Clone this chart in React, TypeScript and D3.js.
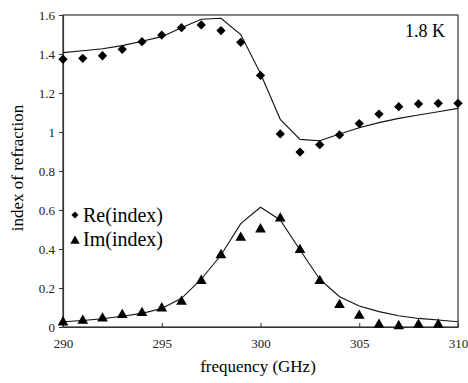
import React, { useRef, useEffect } from 'react';
import * as d3 from 'd3';

// frequency (GHz), measured points and model curves
const freqs = [290, 291, 292, 293, 294, 295, 296, 297, 298, 299, 300, 301, 302, 303, 304, 305, 306, 307, 308, 309, 310];
const reMeasured = [1.373, 1.378, 1.391, 1.424, 1.463, 1.497, 1.535, 1.549, 1.52, 1.46, 1.29, 0.99, 0.897, 0.935, 0.985, 1.043, 1.092, 1.13, 1.144, 1.147, 1.147];
const reModel = [1.407, 1.417, 1.427, 1.443, 1.465, 1.489, 1.535, 1.578, 1.583, 1.5, 1.3, 1.065, 0.962, 0.955, 0.99, 1.022, 1.048, 1.07, 1.087, 1.104, 1.121];
const imMeasured = [0.024, 0.032, 0.044, 0.062, 0.072, 0.096, 0.13, 0.237, 0.369, 0.458, 0.501, 0.557, 0.395, 0.236, 0.113, 0.058, 0.012, 0.005, 0.012, 0.012];
const imModel = [0.027, 0.033, 0.042, 0.055, 0.07, 0.095, 0.147, 0.245, 0.369, 0.53, 0.614, 0.549, 0.395, 0.245, 0.155, 0.108, 0.079, 0.058, 0.044, 0.036, 0.027];
const xTicks = [290, 295, 300, 305, 310];
const yTicks = [0, 0.2, 0.4, 0.6, 0.8, 1, 1.2, 1.4, 1.6];

const App: React.FC = () => {
  const svgRef = useRef<SVGSVGElement | null>(null);

  useEffect(() => {
    const svg = d3.select(svgRef.current);
    svg.selectAll('*').remove();
    const width = 468;
    const height = 383;
    const margin = { top: 15, right: 10, bottom: 56, left: 63 };
    const font = 'Liberation Serif';

    const x = d3.scaleLinear().domain([290, 310]).range([margin.left, width - margin.right]);
    const y = d3.scaleLinear().domain([0, 1.6]).range([height - margin.bottom, margin.top]);

    // frame
    svg.append('rect')
      .attr('x', x(290)).attr('y', y(1.6))
      .attr('width', x(310) - x(290)).attr('height', y(0) - y(1.6))
      .attr('fill', 'none').attr('stroke', '#333').attr('stroke-width', 1.2);

    // x axis
    const xAxis = svg.append('g')
      .attr('transform', `translate(0,${y(0)})`)
      .call(d3.axisBottom(x).tickValues(xTicks).tickSizeInner(-4).tickSizeOuter(0).tickPadding(12));
    xAxis.attr('font-family', font).attr('font-size', 13);
    xAxis.select('.domain').attr('stroke', '#333').attr('stroke-width', 1.2);
    xAxis.selectAll('line').attr('stroke', '#333');
    xAxis.selectAll('text').attr('fill', '#222');

    // y axis
    const yAxis = svg.append('g')
      .attr('transform', `translate(${x(290)},0)`)
      .call(d3.axisLeft(y).tickValues(yTicks).tickFormat(d3.format('~g')).tickSizeInner(4).tickSizeOuter(0).tickPadding(4));
    yAxis.attr('font-family', font).attr('font-size', 13);
    yAxis.select('.domain').attr('stroke', '#333').attr('stroke-width', 1.2);
    yAxis.selectAll('line').attr('stroke', '#333');
    yAxis.selectAll('text').attr('fill', '#222');

    const line = d3.line<number>().x((_, i) => x(freqs[i])).y(d => y(d));

    svg.append('path').datum(reModel).attr('d', line)
      .attr('fill', 'none').attr('stroke', '#111').attr('stroke-width', 1.1);
    svg.append('path').datum(imModel).attr('d', line)
      .attr('fill', 'none').attr('stroke', '#111').attr('stroke-width', 1.1);

    const diamond = d3.symbol().type(d3.symbolDiamond2).size(55);
    const triangle = d3.symbol().type(d3.symbolTriangle).size(50);

    svg.append('g').selectAll('path')
      .data(reMeasured)
      .enter()
      .append('path')
      .attr('d', diamond)
      .attr('transform', (d, i) => `translate(${x(freqs[i])},${y(d)})`)
      .attr('fill', '#000');

    svg.append('g').selectAll('path')
      .data(imMeasured)
      .enter()
      .append('path')
      .attr('d', triangle)
      .attr('transform', (d, i) => `translate(${x(freqs[i])},${y(d)})`)
      .attr('fill', '#000');

    const labels = svg.append('g').attr('font-family', font).attr('fill', '#000');

    // legend
    svg.append('path')
      .attr('d', d3.symbol().type(d3.symbolDiamond2).size(32))
      .attr('transform', `translate(75,215)`)
      .attr('fill', '#000');
    labels.append('text')
      .attr('x', 83).attr('y', 222)
      .attr('font-size', 20)
      .text('Re(index)');
    svg.append('path')
      .attr('d', d3.symbol().type(d3.symbolTriangle).size(38))
      .attr('transform', `translate(75,241)`)
      .attr('fill', '#000');
    labels.append('text')
      .attr('x', 83).attr('y', 246)
      .attr('font-size', 20)
      .text('Im(index)');

    // temperature label
    labels.append('text')
      .attr('x', 445).attr('y', 37)
      .attr('text-anchor', 'end')
      .attr('font-size', 18)
      .text('1.8 K');

    // x-axis label
    labels.append('text')
      .attr('x', 258).attr('y', 372)
      .attr('text-anchor', 'middle')
      .attr('font-size', 17)
      .text('frequency (GHz)');

    // y-axis label
    labels.append('text')
      .attr('transform', 'translate(23,168) rotate(-90)')
      .attr('text-anchor', 'middle')
      .attr('font-size', 17)
      .text('index of refraction');
  }, []);

  return (
    <svg
      ref={svgRef}
      width={468}
      height={383}
      style={{ position: 'absolute', left: 0, top: 0, background: '#fff' }}
    ></svg>
  );
};

export default App;
